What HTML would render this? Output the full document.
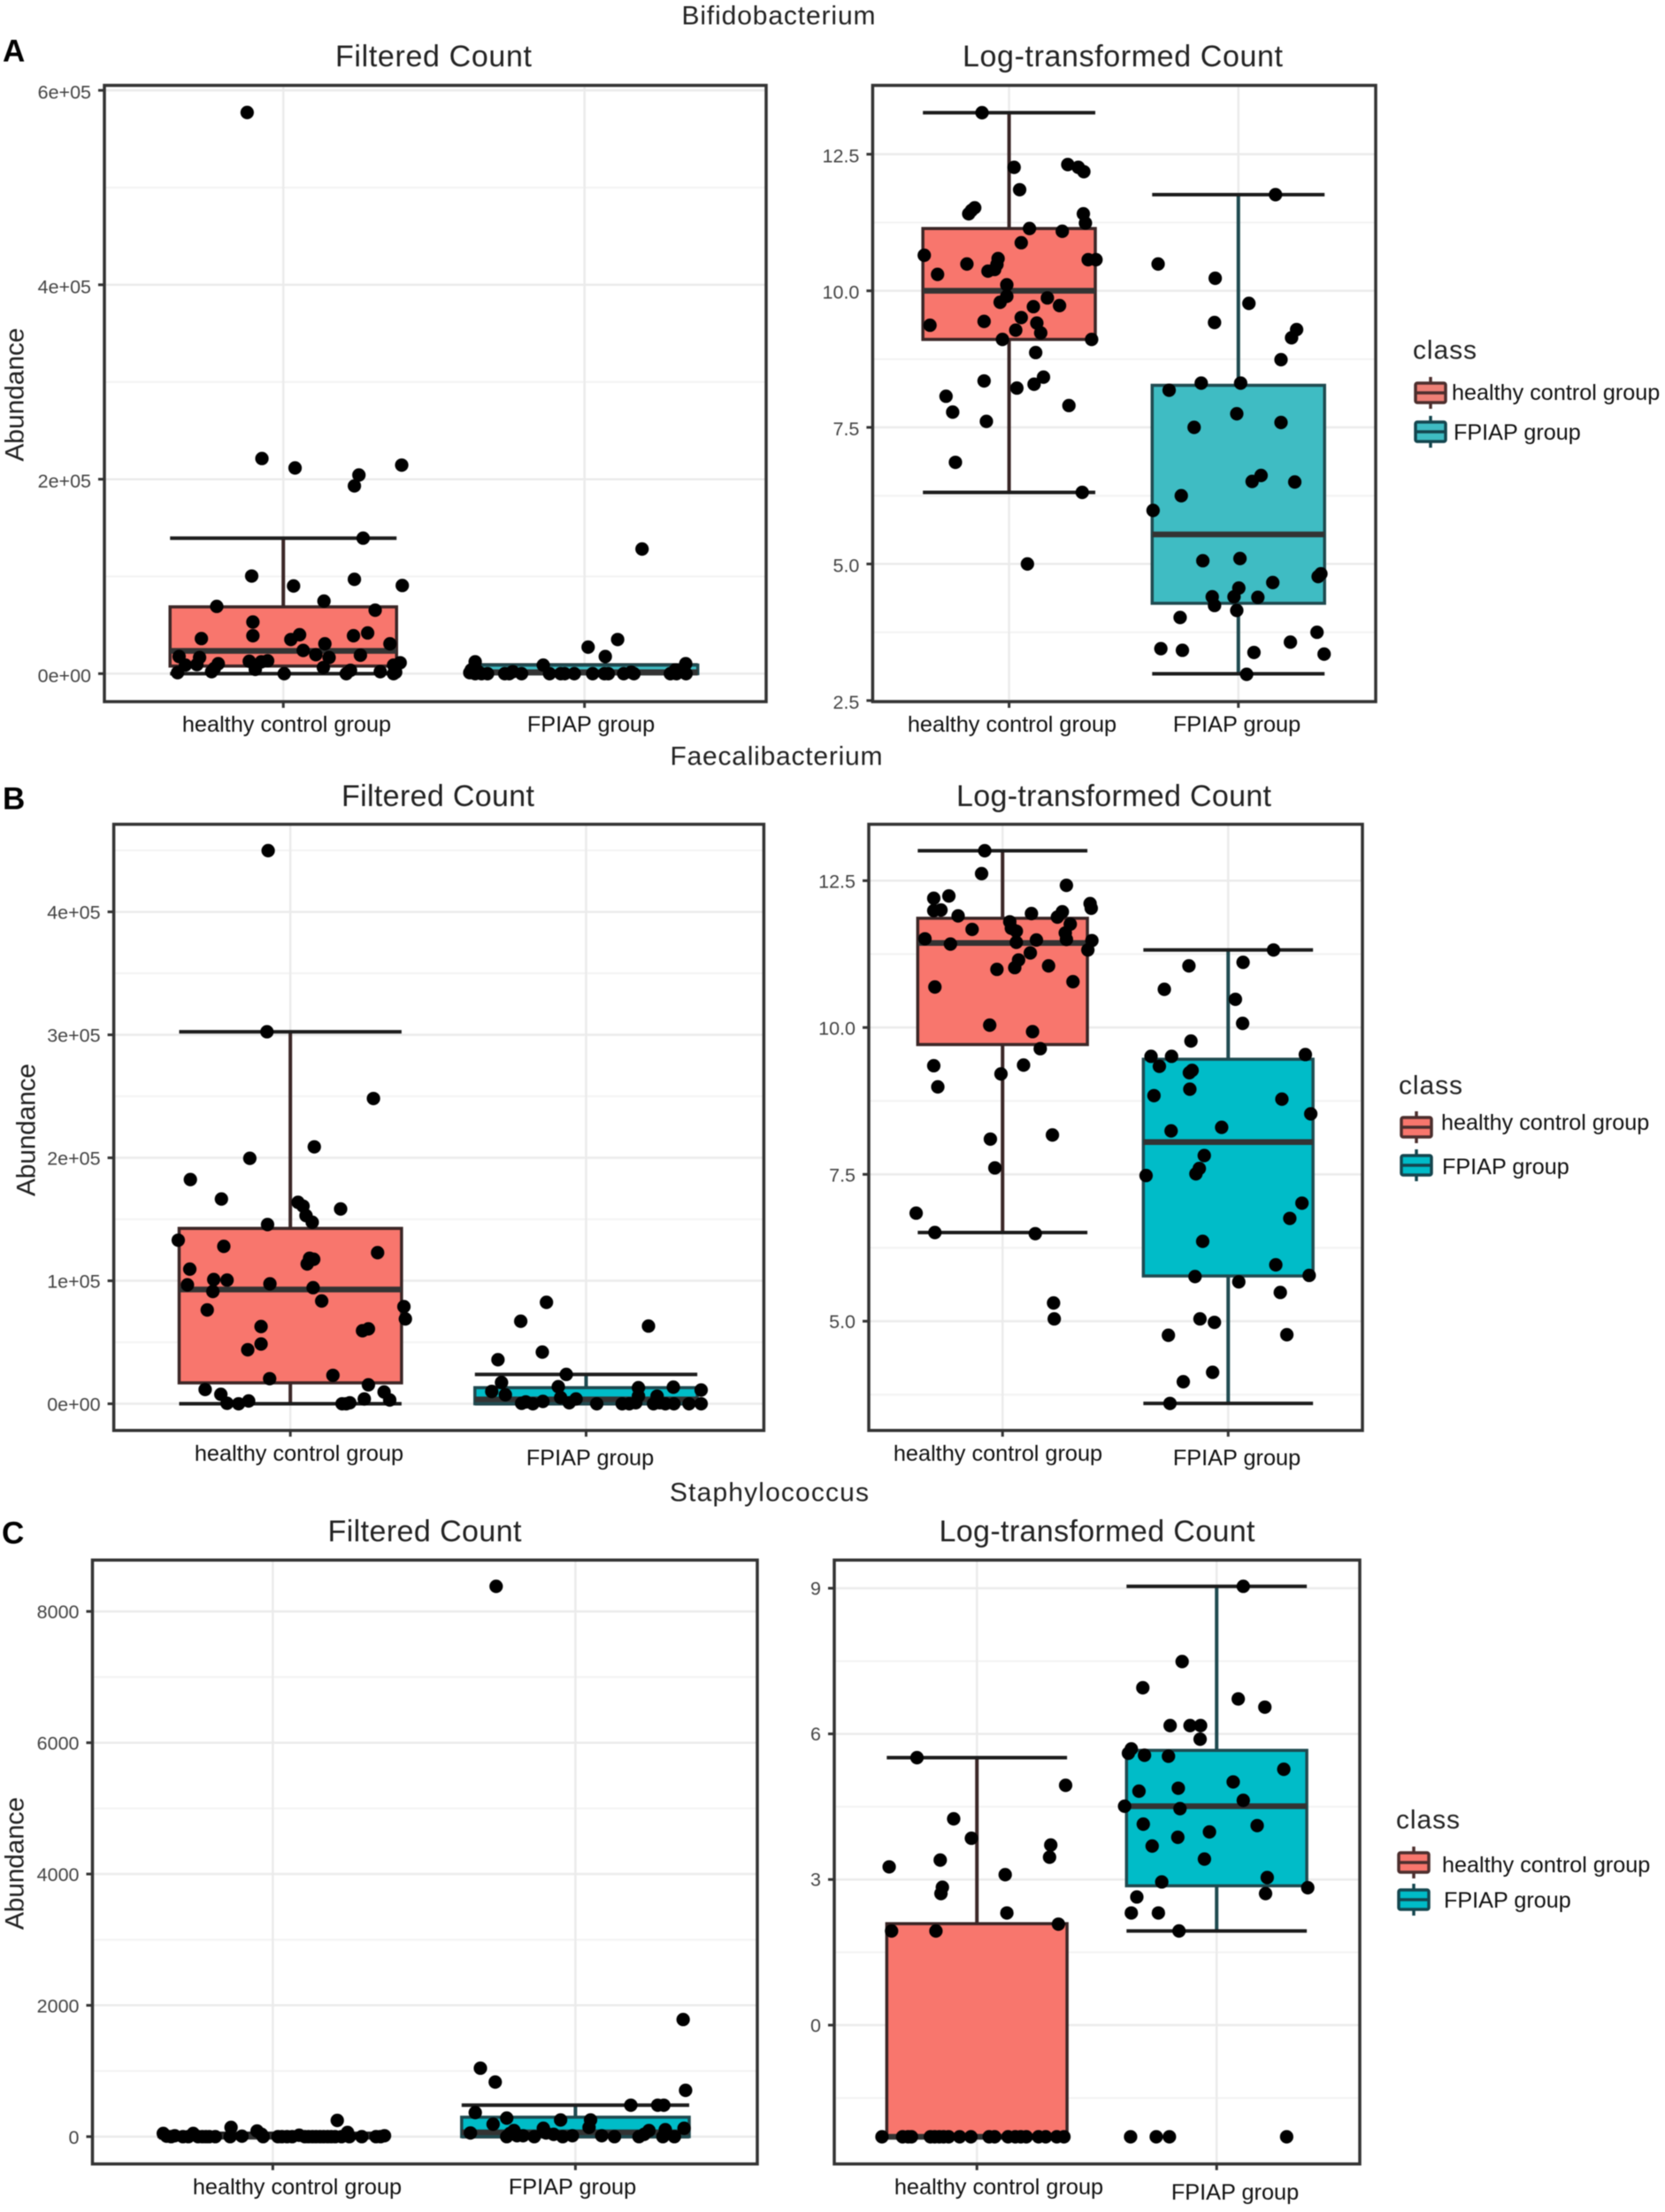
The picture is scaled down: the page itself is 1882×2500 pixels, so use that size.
<!DOCTYPE html>
<html lang="en">
<head>
<meta charset="utf-8">
<title>Bacterial abundance box plots</title>
<style>
html,body{margin:0;padding:0;background:#fff;}
svg{display:block;filter:blur(.5px);}
text{font-family:"Liberation Sans",Arial,sans-serif;fill:#111;}
.t-title{font-size:34px;text-anchor:middle;dominant-baseline:central;fill:#222;}
.t-taxon{font-size:30px;text-anchor:middle;dominant-baseline:central;fill:#222;}
.t-cat{font-size:25.3px;text-anchor:middle;dominant-baseline:central;fill:#111;}
.t-y{font-size:30px;text-anchor:middle;dominant-baseline:central;fill:#222;}
.t-letter{font-size:35px;font-weight:bold;dominant-baseline:central;fill:#000;}
.t-class{font-size:30px;dominant-baseline:central;fill:#222;}
.t-leg{font-size:25.2px;dominant-baseline:central;fill:#111;}
.t-tick{font-size:21.5px;text-anchor:end;dominant-baseline:central;fill:#444;}
</style>
</head>
<body>
<svg id="figure" xmlns="http://www.w3.org/2000/svg" width="1882" height="2500" viewBox="0 0 1882 2500">
<rect x="0" y="0" width="1882" height="2500" fill="#fff"/>
<g id="plots"></g>

<text class="t-taxon" x="880" y="18" textLength="219">Bifidobacterium</text>
<text class="t-taxon" x="877.5" y="855" textLength="240">Faecalibacterium</text>
<text class="t-taxon" x="869.5" y="1687" textLength="225">Staphylococcus</text>

<text class="t-letter" x="3" y="58">A</text>
<text class="t-letter" x="3" y="903">B</text>
<text class="t-letter" x="2" y="1733">C</text>

<text class="t-title" x="490" y="64" textLength="222">Filtered Count</text>
<text class="t-title" x="1269" y="64" textLength="362">Log-transformed Count</text>
<text class="t-title" x="495" y="900" textLength="218">Filtered Count</text>
<text class="t-title" x="1259" y="900" textLength="356">Log-transformed Count</text>
<text class="t-title" x="480" y="1731" textLength="219">Filtered Count</text>
<text class="t-title" x="1240" y="1731" textLength="357">Log-transformed Count</text>

<text class="t-y" transform="translate(17 446) rotate(-90)" textLength="151">Abundance</text>
<text class="t-y" transform="translate(30 1277) rotate(-90)" textLength="150">Abundance</text>
<text class="t-y" transform="translate(17 2106) rotate(-90)" textLength="150">Abundance</text>

<text class="t-cat" x="324" y="819">healthy control group</text>
<text class="t-cat" x="668" y="819">FPIAP group</text>
<text class="t-cat" x="1144" y="819">healthy control group</text>
<text class="t-cat" x="1398" y="819">FPIAP group</text>
<text class="t-cat" x="338" y="1643">healthy control group</text>
<text class="t-cat" x="667" y="1648">FPIAP group</text>
<text class="t-cat" x="1128" y="1643">healthy control group</text>
<text class="t-cat" x="1398" y="1648">FPIAP group</text>
<text class="t-cat" x="336" y="2472">healthy control group</text>
<text class="t-cat" x="647" y="2472">FPIAP group</text>
<text class="t-cat" x="1129" y="2472">healthy control group</text>
<text class="t-cat" x="1396" y="2478">FPIAP group</text>

<g>
  <text class="t-class" x="1597" y="396" textLength="72">class</text>
  <g transform="translate(1600 433)"><line x1="17" x2="17" y1="-7" y2="29" stroke="#4c2f2e" stroke-width="3.5"/><rect width="34" height="22" rx="2" fill="#ee7f76" stroke="#4c2f2e" stroke-width="3.5"/><line x1="0" x2="34" y1="11" y2="11" stroke="#4c2f2e" stroke-width="3.5"/></g>
  <text class="t-leg" x="1641" y="444">healthy control group</text>
  <g transform="translate(1600 477)"><line x1="17" x2="17" y1="-7" y2="29" stroke="#14464f" stroke-width="3.5"/><rect width="34" height="22" rx="2" fill="#3fbcc3" stroke="#14464f" stroke-width="3.5"/><line x1="0" x2="34" y1="11" y2="11" stroke="#14464f" stroke-width="3.5"/></g>
  <text class="t-leg" x="1643" y="489">FPIAP group</text>
</g>
<g>
  <text class="t-class" x="1581" y="1227" textLength="72">class</text>
  <g transform="translate(1584 1263)"><line x1="17" x2="17" y1="-7" y2="29" stroke="#4c2f2e" stroke-width="3.5"/><rect width="34" height="22" rx="2" fill="#f8766d" stroke="#4c2f2e" stroke-width="3.5"/><line x1="0" x2="34" y1="11" y2="11" stroke="#4c2f2e" stroke-width="3.5"/></g>
  <text class="t-leg" x="1629" y="1269">healthy control group</text>
  <g transform="translate(1584 1306)"><line x1="17" x2="17" y1="-7" y2="29" stroke="#14464f" stroke-width="3.5"/><rect width="34" height="22" rx="2" fill="#00bcc8" stroke="#14464f" stroke-width="3.5"/><line x1="0" x2="34" y1="11" y2="11" stroke="#14464f" stroke-width="3.5"/></g>
  <text class="t-leg" x="1630" y="1319">FPIAP group</text>
</g>
<g>
  <text class="t-class" x="1578" y="2057" textLength="72">class</text>
  <g transform="translate(1581 2094)"><line x1="17" x2="17" y1="-7" y2="29" stroke="#4c2f2e" stroke-width="3.5"/><rect width="34" height="22" rx="2" fill="#f8766d" stroke="#4c2f2e" stroke-width="3.5"/><line x1="0" x2="34" y1="11" y2="11" stroke="#4c2f2e" stroke-width="3.5"/></g>
  <text class="t-leg" x="1630" y="2108">healthy control group</text>
  <g transform="translate(1581 2136)"><line x1="17" x2="17" y1="-7" y2="29" stroke="#14464f" stroke-width="3.5"/><rect width="34" height="22" rx="2" fill="#00bcc8" stroke="#14464f" stroke-width="3.5"/><line x1="0" x2="34" y1="11" y2="11" stroke="#14464f" stroke-width="3.5"/></g>
  <text class="t-leg" x="1632" y="2148">FPIAP group</text>
</g>
</svg>

<script>
// ---------- Panel A: Bifidobacterium, filtered count (values in thousands) ----------
const aCountTicks = [0, 200, 400, 600];
const aCountTickLabels = ['0e+00', '2e+05', '4e+05', '6e+05'];
const aCountHealthyBox = [0, 7.8, 23.4, 68.7, 139.4];
const aCountHealthyJitter = [-.120,-.071,.039,.251,.236,.393,.265,-.105,.034,.236,.395,-.221,.135,.305,-.101,-.101,-.272,.025,.054,.233,.280,.138,.354,.066,.108,-.346,-.278,.152,.256,-.113,-.073,-.052,-.287,-.216,-.325,.388,.366,.133,-.093,-.229,-.351,-.238,.003,.209,.223,.322,.366,.373];
const aCountHealthyValues = [577.2,221.3,211.6,204.3,193.1,214.5,139.4,100.4,90.2,97,90.7,69.2,74.6,65.3,53.1,39,36.1,35.1,40,39,41.9,30.7,30.7,23.9,19.5,17.6,16.6,16.6,19,12.7,12.2,13.2,9.3,10.2,8.8,11.2,8.8,6.3,4.4,5.4,1,2,0,0,3.4,2,0,1.5];
const aCountFpiapBox = [0, 0, 1.5, 8.8, 9];
const aCountFpiapJitter = [.191,.110,.012,.069,-.363,-.137,.336,-.376,-.356,-.381,-.363,-.342,-.322,-.265,-.250,-.238,-.209,-.116,-.079,-.066,-.034,.027,.066,.079,.130,.155,.164,.285,.305,.337,.302];
const aCountFpiapValues = [128.2,35.1,27.3,17.6,12.2,8.8,10.2,3.9,2.9,1,0,0,0,0,0,2,0,0,0,0,0,0,0,0,0,1.5,0,0,0,0,3.9];

// ---------- Panel A: Bifidobacterium, log-transformed count ----------
const aLogTicks = [2.5, 5, 7.5, 10, 12.5];
const aLogTickLabels = ['2.5', '5.0', '7.5', '10.0', '12.5'];
const aLogHealthyBox = [6.31, 9.11, 10.0, 11.14, 13.26];
const aLogHealthyJitter = [-.118,.022,.256,.302,.326,.046,-.150,-.164,-.176,.324,.333,.089,.232,.053,-.370,-.048,.345,.379,-.184,-.053,-.063,-.092,-.312,-.010,-.010,.167,-.039,.106,.220,.053,-.109,-.345,.121,.029,.138,-.029,.360,.116,.150,-.109,.109,.034,-.275,.261,-.246,-.099,-.234,.319,.080];
const aLogHealthyValues = [13.26,12.26,12.31,12.26,12.18,11.85,11.52,11.47,11.41,11.41,11.24,11.14,11.09,10.88,10.65,10.59,10.57,10.57,10.49,10.48,10.39,10.36,10.30,10.11,9.90,9.87,9.79,9.71,9.73,9.51,9.44,9.37,9.41,9.28,9.23,9.11,9.11,8.87,8.42,8.35,8.29,8.22,8.07,7.90,7.78,7.61,6.86,6.31,5.00];
const aLogFpiapBox = [2.99, 4.28, 5.54, 8.27, 11.76];
const aLogFpiapJitter = [.162,-.350,-.101,.046,-.104,.254,.232,.186,-.162,.010,-.302,-.007,.186,-.193,.099,.060,.246,-.249,-.372,-.155,.007,.360,.348,.002,.150,-.114,-.019,.085,-.104,-.007,-.254,.343,.227,-.338,-.244,.068,.374,.036];
const aLogFpiapValues = [11.76,10.49,10.23,9.77,9.42,9.29,9.14,8.74,8.31,8.31,8.18,7.75,7.59,7.50,6.62,6.51,6.50,6.25,5.98,5.06,5.10,4.82,4.77,4.56,4.66,4.40,4.40,4.39,4.24,4.15,4.02,3.75,3.57,3.45,3.42,3.38,3.35,2.98];

// ---------- Panel B: Faecalibacterium, filtered count (values in thousands) ----------
const bCountTicks = [0, 100, 200, 300, 400];
const bCountTickLabels = ['0e+00', '1e+05', '2e+05', '3e+05', '4e+05'];
const bCountHealthyBox = [0, 17, 92.9, 142.6, 302.5];
const bCountHealthyJitter = [-.075,-.079,.281,.081,-.137,-.338,-.233,.026,.043,.170,.053,.074,-.077,-.379,-.225,.295,.065,.079,.057,-.340,-.259,-.214,-.348,-.069,.077,-.262,.106,.384,-.281,.389,.264,.244,-.099,-.099,-.144,.144,-.070,.264,-.288,.317,-.235,.250,.336,-.214,-.141,-.175,.175,.189,.201];
const bCountHealthyValues = [449.8,302.5,248.2,208.9,199.6,182.3,166.5,163.8,160.7,158.4,153,147.6,145.7,133,128,122.9,118.3,117.5,113.7,109.5,101,100.6,96.7,97.5,94.4,91.3,83.6,79,76.3,69,60.9,59.4,62.8,48.6,43.9,23.1,20.4,15.4,11.6,9.6,7.7,3.9,3.1,.4,2.3,0,0,0,.8];
const bCountFpiapBox = [0, 0, 3.5, 13.1, 23.9];
const bCountFpiapJitter = [-.134,-.221,.211,-.148,-.298,-.067,-.286,-.094,.177,.295,.389,-.319,-.273,-.086,-.034,.177,.240,-.204,-.146,-.218,-.180,-.057,.036,.122,.146,.168,.228,.268,.297,.348,.389,.249];
const bCountFpiapValues = [82.5,67.1,63.2,42,35.8,23.9,17.3,13.9,13.1,13.5,11.2,10,7.3,5,3.9,6.2,6.2,1.5,1.9,.4,0,.8,0,0,0,.8,0,0,0,0,0,.8];

// ---------- Panel B: Faecalibacterium, log-transformed count ----------
const bLogTicks = [5, 7.5, 10, 12.5];
const bLogTickLabels = ['5.0', '7.5', '10.0', '12.5'];
const bLogHealthyBox = [6.51, 9.71, 11.44, 11.86, 13.01];
const bLogHealthyJitter = [-.079,-.093,.283,-.238,-.305,.388,.393,-.305,-.273,.128,.265,.243,-.197,.032,.300,.039,.061,-.135,.278,-.344,.150,.283,.396,.061,-.231,.378,.123,.071,.054,.204,-.025,.312,-.300,-.057,.133,.167,-.305,.093,-.007,-.287,.221,-.054,-.034,-.383,-.300,.145,.226,.229];
const bLogHealthyValues = [13.01,12.62,12.42,12.24,12.20,12.11,12.03,11.99,12.00,11.94,11.97,11.88,11.90,11.80,11.76,11.69,11.64,11.67,11.61,11.51,11.49,11.50,11.48,11.45,11.42,11.32,11.27,11.15,11.02,11.05,10.99,10.78,10.69,10.04,9.93,9.64,9.35,9.36,9.21,8.99,8.17,8.10,7.61,6.84,6.51,6.49,5.31,5.04];
const bLogFpiapBox = [3.60, 5.77, 8.05, 9.46, 11.32];
const bLogFpiapJitter = [.201,-.174,.066,-.283,.032,.064,-.165,.342,-.342,-.251,-.305,-.160,-.172,-.329,-.170,.238,.366,-.029,-.253,-.106,-.128,-.143,-.364,.327,.273,-.113,.211,.359,-.147,.047,.231,-.125,-.061,-.265,.260,-.069,-.199,-.258];
const bLogFpiapValues = [11.32,11.05,11.11,10.65,10.48,10.07,9.77,9.54,9.51,9.51,9.34,9.27,9.23,8.84,8.95,8.78,8.53,8.30,8.24,7.82,7.60,7.51,7.48,7.01,6.75,6.36,5.96,5.78,5.76,5.67,5.49,5.04,4.98,4.76,4.77,4.13,3.97,3.60];

// ---------- Panel C: Staphylococcus, filtered count ----------
const cCountTicks = [0, 2000, 4000, 6000, 8000];
const cCountTickLabels = ['0', '2000', '4000', '6000', '8000'];
const cCountHealthyBox = [0, 0, 0, 20, 50];
const cCountHealthyJitter = [-.362,-.351,-.336,-.324,-.297,-.279,-.263,-.247,-.233,-.221,-.210,-.190,-.138,-.141,-.102,-.052,-.037,-.032,.017,.030,.047,.064,.087,.106,.118,.131,.143,.156,.168,.181,.193,.206,.213,.227,.247,.253,.294,.341,.356,.369];
const cCountHealthyValues = [49,7,0,14,0,0,49,0,0,0,0,0,141,0,7,85,35,0,0,0,0,0,21,0,0,0,0,0,0,0,0,0,247,0,63,0,0,0,0,14];
const cCountFpiapBox = [0, 0, 65, 296, 479];
const cCountFpiapJitter = [-.262,.356,-.314,-.265,.364,.183,.272,.292,-.331,-.227,-.049,.050,-.272,.045,-.106,.359,-.347,.243,.297,-.203,-.097,-.072,-.227,-.193,-.173,-.136,-.042,-.010,.087,.129,.210,.227,.289,.327,-.216];
const cCountFpiapValues = [8382,1784,1043,832,705,479,479,479,367,282,254,254,190,141,127,127,56,92,106,92,56,35,0,14,14,0,0,14,14,0,0,35,0,0,49];

// ---------- Panel C: Staphylococcus, log-transformed count ----------
const cLogTicks = [0, 3, 6, 9];
const cLogTickLabels = ['0', '3', '6', '9'];
const cLogHealthyBox = [-2.30, -2.30, -2.30, 2.09, 5.51];
const cLogHealthyJitter = [-.250,.370,-.097,-.023,.308,.303,-.153,-.366,.118,-.144,-.150,.125,.340,-.356,-.171,-.396,-.310,-.287,-.273,-.194,-.176,-.157,-.139,-.118,-.072,-.025,.051,.074,.130,.160,.183,.206,.257,.287,.333,.363];
const cLogHealthyValues = [5.51,4.94,4.25,3.85,3.71,3.46,3.40,3.26,3.10,2.84,2.71,2.31,2.08,1.94,1.94,-2.30,-2.30,-2.30,-2.30,-2.30,-2.30,-2.30,-2.30,-2.30,-2.30,-2.30,-2.30,-2.30,-2.30,-2.30,-2.30,-2.30,-2.30,-2.30,-2.30,-2.30];
const cLogFpiapBox = [1.94, 2.87, 4.51, 5.66, 9.04];
const cLogFpiapJitter = [.111,-.144,-.308,.090,.201,-.194,-.111,-.067,-.069,-.356,-.368,-.301,-.201,.280,.069,-.160,-.324,.111,-.384,-.153,-.306,.169,-.030,-.162,-.269,-.051,-.229,.211,.380,.204,-.333,-.356,-.243,-.157,-.359,-.252,-.197,.292];
const cLogFpiapValues = [9.04,7.49,6.95,6.72,6.55,6.17,6.17,6.17,5.89,5.69,5.60,5.56,5.54,5.27,5.01,4.88,4.82,4.63,4.51,4.46,4.14,4.11,3.98,3.87,3.69,3.42,2.95,3.04,2.83,2.71,2.64,2.31,2.31,1.94,-2.30,-2.30,-2.30,-2.30];

// ---------- Panel layout (frame rectangle, axis domains, label nudge) ----------
const panels = [
  {id:'a-filtered', frame:[118,96.5,866,793], xDom:[.406,2.603], yDom:[-28.8,605.1], labelDy:2.5, ticks:aCountTicks, labels:aCountTickLabels,
   healthy:{box:aCountHealthyBox, jitter:aCountHealthyJitter, values:aCountHealthyValues}, fpiap:{box:aCountFpiapBox, jitter:aCountFpiapJitter, values:aCountFpiapValues}, boxHalf:.376, teal:'#3fbcc3', tealDark:'#1f4a50'},
  {id:'a-log', frame:[986.4,96.5,1555,793], xDom:[.405,2.599], yDom:[2.48,13.76], labelDy:2, ticks:aLogTicks, labels:aLogTickLabels,
   healthy:{box:aLogHealthyBox, jitter:aLogHealthyJitter, values:aLogHealthyValues}, fpiap:{box:aLogFpiapBox, jitter:aLogFpiapJitter, values:aLogFpiapValues}, boxHalf:.376, teal:'#3fbcc3', tealDark:'#1f4a50'},
  {id:'b-filtered', frame:[128.6,931.6,863.4,1616.7], xDom:[.403,2.601], yDom:[-21.7,471.2], labelDy:1, ticks:bCountTicks, labels:bCountTickLabels,
   healthy:{box:bCountHealthyBox, jitter:bCountHealthyJitter, values:bCountHealthyValues}, fpiap:{box:bCountFpiapBox, jitter:bCountFpiapJitter, values:bCountFpiapValues}, boxHalf:.376, teal:'#00bcc8', tealDark:'#1f4a50'},
  {id:'b-log', frame:[982,931.6,1540,1616.7], xDom:[.407,2.595], yDom:[3.14,13.46], labelDy:1, ticks:bLogTicks, labels:bLogTickLabels,
   healthy:{box:bLogHealthyBox, jitter:bLogHealthyJitter, values:bLogHealthyValues}, fpiap:{box:bLogFpiapBox, jitter:bLogFpiapJitter, values:bLogFpiapValues}, boxHalf:.376, teal:'#00bcc8', tealDark:'#1f4a50'},
  {id:'c-filtered', frame:[104.5,1763.2,856,2445.7], xDom:[.404,2.601], yDom:[-416,8782], labelDy:1, ticks:cCountTicks, labels:cCountTickLabels,
   healthy:{box:cCountHealthyBox, jitter:cCountHealthyJitter, values:cCountHealthyValues}, fpiap:{box:cCountFpiapBox, jitter:cCountFpiapJitter, values:cCountFpiapValues}, boxHalf:.376, teal:'#00bcc8', tealDark:'#1f4a50'},
  {id:'c-log', frame:[943,1763.2,1537,2445.7], xDom:[.405,2.597], yDom:[-2.86,9.58], labelDy:0.5, ticks:cLogTicks, labels:cLogTickLabels,
   healthy:{box:cLogHealthyBox, jitter:cLogHealthyJitter, values:cLogHealthyValues}, fpiap:{box:cLogFpiapBox, jitter:cLogFpiapJitter, values:cLogFpiapValues}, boxHalf:.376, teal:'#00bcc8', tealDark:'#1f4a50'}
];

const NS = 'http://www.w3.org/2000/svg';
const POINT_RADIUS = 7.6;
const HEALTHY_FILL = '#f8766d';
const HEALTHY_DARK = '#3a2626';

function make(tag, attrs) {
  const node = document.createElementNS(NS, tag);
  for (const key in attrs) node.setAttribute(key, attrs[key]);
  return node;
}

function drawPanel(p, root) {
  const [L, T, R, B] = p.frame;
  const xScale = c => L + (c - p.xDom[0]) / (p.xDom[1] - p.xDom[0]) * (R - L);
  const yScale = v => B - (v - p.yDom[0]) / (p.yDom[1] - p.yDom[0]) * (B - T);

  const group = make('g', {});
  
  
  root.appendChild(group);

  // minor grid, halfway between major ticks
  const step = p.ticks[1] - p.ticks[0];
  const minors = p.ticks.map(t => t + step / 2).concat([p.ticks[0] - step / 2]);
  minors.filter(m => m > p.yDom[0] && m < p.yDom[1]).forEach(m => {
    const line = make('line', {x1:L, x2:R, y1:yScale(m), y2:yScale(m), stroke:'#f3f3f3', 'stroke-width':2});
    
    
    group.appendChild(line);
  });

  // major grid
  p.ticks.forEach(t => {
    const line = make('line', {x1:L, x2:R, y1:yScale(t), y2:yScale(t), stroke:'#ebebeb', 'stroke-width':2.5});
    
    
    group.appendChild(line);
  });
  [1, 2].forEach(c => {
    const line = make('line', {x1:xScale(c), x2:xScale(c), y1:T, y2:B, stroke:'#ebebeb', 'stroke-width':2.5});
    
    
    group.appendChild(line);
  });

  // box plots
  drawBox(group, p, p.healthy.box, 1, HEALTHY_FILL, HEALTHY_DARK, 'healthy', xScale, yScale);
  drawBox(group, p, p.fpiap.box, 2, p.teal, p.tealDark, 'fpiap', xScale, yScale);

  // jittered points
  drawPoints(group, p, p.healthy, 1, 'healthy', xScale, yScale);
  drawPoints(group, p, p.fpiap, 2, 'fpiap', xScale, yScale);

  // frame and axes
  const frame = make('rect', {x:L, y:T, width:R - L, height:B - T, fill:'none', stroke:'#333', 'stroke-width':3.5});
  
  
  group.appendChild(frame);

  p.ticks.forEach((t, i) => {
    const mark = make('line', {x1:L - 7, x2:L, y1:yScale(t), y2:yScale(t), stroke:'#333', 'stroke-width':3});
    
    
    group.appendChild(mark);
    const label = make('text', {x:L - 15, y:yScale(t) + p.labelDy, class:'t-tick'});
    
    
    label.textContent = p.labels[i];
    group.appendChild(label);
  });
  [1, 2].forEach(c => {
    const mark = make('line', {x1:xScale(c), x2:xScale(c), y1:B, y2:B + 7, stroke:'#333', 'stroke-width':3});
    
    
    group.appendChild(mark);
  });
}

function drawBox(group, p, stats, cat, fill, dark, key, xScale, yScale) {
  const [lo, q1, med, q3, hi] = stats;
  const x0 = xScale(cat - p.boxHalf);
  const x1 = xScale(cat + p.boxHalf);
  const xc = xScale(cat);

  const whiskerUp = make('line', {x1:xc, x2:xc, y1:yScale(hi), y2:yScale(q3), stroke:dark, 'stroke-width':4});
  
  
  group.appendChild(whiskerUp);

  const whiskerDown = make('line', {x1:xc, x2:xc, y1:yScale(q1), y2:yScale(lo), stroke:dark, 'stroke-width':4});
  
  
  group.appendChild(whiskerDown);

  const capUp = make('line', {x1:x0, x2:x1, y1:yScale(hi), y2:yScale(hi), stroke:'#1c1c1c', 'stroke-width':4});
  
  
  group.appendChild(capUp);

  const capDown = make('line', {x1:x0, x2:x1, y1:yScale(lo), y2:yScale(lo), stroke:'#1c1c1c', 'stroke-width':4});
  
  
  group.appendChild(capDown);

  const box = make('rect', {x:x0, y:yScale(q3), width:x1 - x0, height:yScale(q1) - yScale(q3), fill:fill, stroke:dark, 'stroke-width':3.5});
  
  
  group.appendChild(box);

  const median = make('line', {x1:x0, x2:x1, y1:yScale(med), y2:yScale(med), stroke:'#333', 'stroke-width':6.5});
  
  
  group.appendChild(median);
}

function drawPoints(group, p, series, cat, key, xScale, yScale) {
  series.values.forEach((v, i) => {
    const dot = make('circle', {cx:xScale(cat + series.jitter[i]), cy:yScale(v), r:POINT_RADIUS, fill:'#000'});
    
    
    group.appendChild(dot);
  });
}

const plotRoot = document.getElementById('plots');
panels.forEach(p => drawPanel(p, plotRoot));
</script>
</body>
</html>
